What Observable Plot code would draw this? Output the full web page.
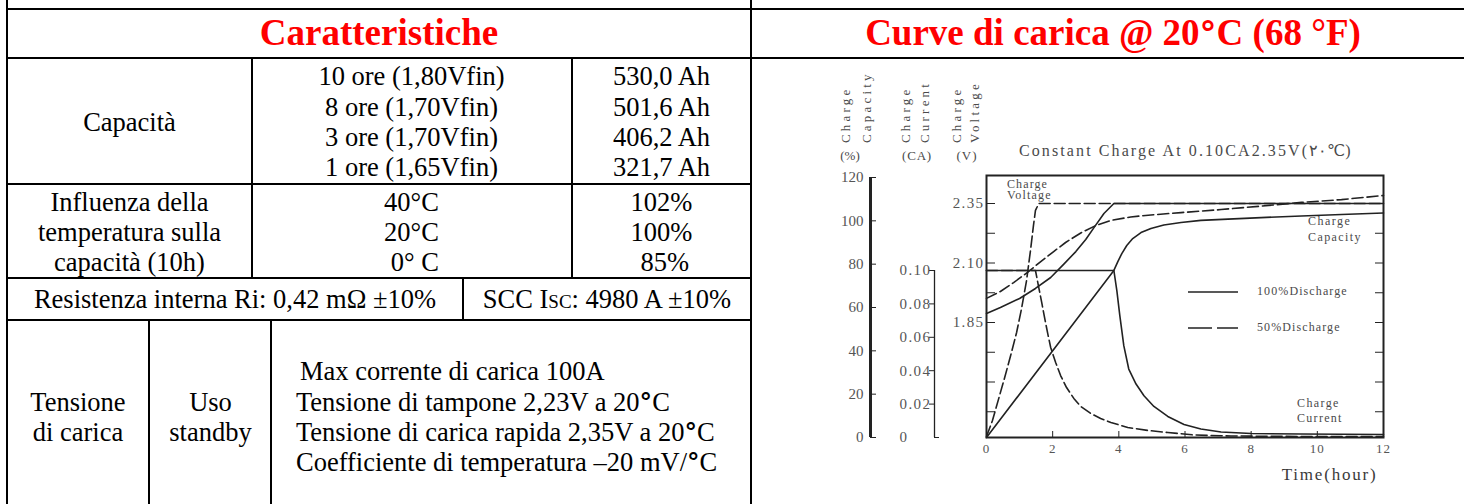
<!DOCTYPE html>
<html><head><meta charset="utf-8">
<script src="https://cdn.jsdelivr.net/npm/d3@7"></script>
<script src="https://cdn.jsdelivr.net/npm/@observablehq/plot@0.6"></script>
<style>
html,body{margin:0;padding:0;background:#fff;}
#page{position:relative;width:1464px;height:504px;overflow:hidden;background:#fff;font-family:"Liberation Serif","Times New Roman",serif;color:#000;}
.ln{position:absolute;background:#000;}
.t{position:absolute;white-space:pre;font-size:26.5px;line-height:32px;}
.ttl{position:absolute;white-space:pre;font-weight:bold;color:#ff0000;font-size:37px;line-height:40px;text-align:center;}
.m{position:absolute;white-space:pre;font-family:"Liberation Serif","Times New Roman",serif;color:#4a4a4a;}
.dg{font-family:"DejaVu Sans",sans-serif;font-weight:bold;font-size:0.95em;}
.bd{font-family:"DejaVu Sans",sans-serif;font-size:0.92em;}
</style></head><body><div id="page"></div>
<script>
// ---------- table content ----------
const capacityRates = ["10 ore (1,80Vfin)", "8 ore (1,70Vfin)", "3 ore (1,70Vfin)", "1 ore (1,65Vfin)"];
const capacityValues = ["530,0 Ah", "501,6 Ah", "406,2 Ah", "321,7 Ah"];
const tempLabelLines = ["Influenza della", "temperatura sulla", "capacità (10h)"];
const temperatures = ["40°C", "20°C", " 0° C"];
const tempFactors = ["102%", "100%", " 85%"];
const chargeLines = ["Max corrente di carica 100A", "Tensione di tampone 2,23V a 20°C", "Tensione di carica rapida 2,35V a 20°C", "Coefficiente di temperatura –20 mV/°C"];

// ---------- chart data ----------
const hourTicks = [0, 2, 4, 6, 8, 10, 12];
const capacityTicks = [0, 20, 40, 60, 80, 100, 120];
const currentTicks = [0, 0.02, 0.04, 0.06, 0.08, 0.10];
const voltageTicks = [1.475, 1.6, 1.725, 1.85, 1.975, 2.1, 2.225, 2.35];
const voltageLabelled = [1.85, 2.1, 2.35];

// Charge voltage (V)
const volt100Hours = [0, 0.42, 1.0, 1.48, 1.94, 2.33, 2.7, 3.0, 3.27, 3.55, 3.85, 12];
const volt100Values = [1.888, 1.913, 1.951, 1.993, 2.039, 2.094, 2.148, 2.199, 2.253, 2.308, 2.35, 2.35];
const volt50Hours = [0, 0.18, 0.36, 0.55, 0.73, 0.91, 1.06, 1.21, 1.33, 1.42, 1.48, 1.58, 12];
const volt50Values = [1.371, 1.438, 1.526, 1.619, 1.711, 1.808, 1.909, 2.026, 2.153, 2.258, 2.321, 2.35, 2.35];

// Charge current (CA)
const curr100Hours = [0, 3.85, 3.94, 4.03, 4.15, 4.3, 4.52, 4.76, 5.06, 5.48, 5.97, 6.48, 7.09, 8, 9.5, 12];
const curr100Values = [0.1, 0.1, 0.088, 0.073, 0.055, 0.041, 0.032, 0.025, 0.0186, 0.0126, 0.0078, 0.0051, 0.0033, 0.0024, 0.0021, 0.0018];
const curr50Hours = [0, 1.48, 1.58, 1.67, 1.76, 1.85, 1.94, 2.09, 2.24, 2.42, 2.64, 2.85, 3.15, 3.45, 3.76, 4.27, 4.88, 5.48, 6.27, 7.39, 9.52, 12];
const curr50Values = [0.1, 0.1, 0.0898, 0.0808, 0.0713, 0.0623, 0.0539, 0.0449, 0.0371, 0.0299, 0.0234, 0.0186, 0.0144, 0.0114, 0.009, 0.006, 0.0042, 0.003, 0.0015, 0.0009, 0.0006, 0.0006];

// Charge capacity (%)
const cap100Hours = [0, 3.85, 3.97, 4.09, 4.24, 4.42, 4.67, 4.97, 5.36, 5.88, 6.48, 7.3, 8.3, 9.52, 10.73, 12];
const cap100Values = [0, 77.1, 81.2, 84.9, 88.6, 91.8, 94.6, 96.5, 98.1, 99.2, 100.2, 100.8, 101.5, 102.2, 102.9, 103.6];
const cap50Hours = [0, 0.42, 0.82, 1.24, 1.64, 2.03, 2.39, 2.85, 3.3, 3.76, 4.36, 4.97, 5.88, 7.09, 8.3, 9.52, 10.73, 12];
const cap50Values = [64.2, 67.4, 71.5, 76.2, 81.2, 85.8, 90.0, 94.4, 97.8, 100.2, 101.8, 102.7, 103.8, 105.2, 106.8, 108.5, 109.8, 111.7];

const rows = (hs, vs) => hs.map((h, i) => ({h, v: vs[i]}));

// ---------- page / table ----------
const page = document.getElementById("page");
function add(cls, css, content, isHtml) {
  const el = document.createElement("div");
  el.className = cls;
  Object.assign(el.style, css);
  if (isHtml) el.innerHTML = content; else el.textContent = content;
  page.appendChild(el);
  return el;
}
const hline = (x1, x2, y) => add("ln", {left: x1 + "px", top: y + "px", width: (x2 - x1) + "px", height: "2px"}, "");
const vline = (x, y1, y2) => add("ln", {left: x + "px", top: y1 + "px", width: "2px", height: (y2 - y1) + "px"}, "");
const ctext = (cx, cy, s, isHtml) => add("t", {left: (cx - 250) + "px", width: "500px", top: (cy - 16) + "px", textAlign: "center"}, s, isHtml);
const ltext = (x, cy, s, isHtml) => add("t", {left: x + "px", top: (cy - 16) + "px"}, s, isHtml);
const deg = s => s.replace(/°/g, "<span class='dg'>°</span>");

hline(6, 1464, 8); hline(6, 1464, 57);
vline(6, 0, 504); vline(750, 0, 504);
hline(6, 752, 183); hline(6, 752, 277); hline(6, 752, 319);
vline(251, 57, 279); vline(571, 57, 279);
vline(462, 277, 321);
vline(148, 319, 504); vline(270, 319, 504);

add("ttl", {left: "79px", width: "600px", top: "13px"}, "Caratteristiche");
add("ttl", {left: "813px", width: "600px", top: "13px"}, "Curve di carica @ 20<span class='bd'>°</span>C (68 °F)", true);

ctext(129.5, 121.7, "Capacità");
[76, 106.5, 136.5, 166.5].forEach((y, i) => { ctext(411.5, y, capacityRates[i]); ctext(661.5, y, capacityValues[i]); });
[201.7, 231.7, 261.7].forEach((y, i) => { ctext(129.5, y, tempLabelLines[i]); ctext(411.5, y, temperatures[i]); ctext(661.5, y, tempFactors[i]); });
ctext(235, 299.3, "Resistenza interna Ri: 0,42 mΩ ±10%");
ctext(607, 299.3, "SCC I<span style='font-variant:small-caps'>sc</span>: 4980 A ±10%", true);
ctext(78, 401.7, "Tensione"); ctext(78, 431.7, "di carica");
ctext(210.5, 401.7, "Uso"); ctext(210.5, 431.7, "standby");
ltext(300, 371, chargeLines[0]);
[401.7, 431.7, 461.7].forEach((y, i) => ltext(296, y, deg(chargeLines[i + 1]), true));

// ---------- chart annotations (HTML text) ----------
function mtext(x, cy, s, fs, ls, anchor) {
  const el = add("m", {left: x + "px", top: (cy - 0.6 * fs) + "px", fontSize: fs + "px", lineHeight: fs + "px", letterSpacing: (ls || 0) + "px"}, s);
  if (anchor === "middle") { el.style.left = (x - 100) + "px"; el.style.width = "200px"; el.style.textAlign = "center"; }
  return el;
}
function rtext(xc, yb, s) {
  const fs = 13;
  add("m", {left: (xc - 0.6 * fs) + "px", top: yb + "px", fontSize: fs + "px", lineHeight: fs + "px", letterSpacing: "3.2px", transformOrigin: "0 0", transform: "rotate(-90deg)"}, s);
}
rtext(847, 143, "Charge"); rtext(868, 143, "Capacity");
rtext(907, 143, "Charge"); rtext(926, 143, "Current");
rtext(958, 143, "Charge"); rtext(976, 143, "Voltage");
mtext(850, 157, "(%)", 13, 0, "middle");
mtext(917, 157, "(CA)", 13, 0.8, "middle");
mtext(967, 157, "(V)", 13, 1.0, "middle");
mtext(1019, 153, "Constant Charge At 0.10CA2.35V(۲۰℃)", 16, 2.1);
mtext(1007, 185, "Charge", 12, 1.1); mtext(1007, 196.5, "Voltage", 12, 1.2);
mtext(1308, 222, "Charge", 12, 1.5); mtext(1308, 238.5, "Capacity", 12, 1.4);
mtext(1297, 404, "Charge", 12, 1.4); mtext(1297, 419.5, "Current", 12, 1.3);
mtext(1257, 292, "100%Discharge", 12, 1.1);
mtext(1257, 328, "50%Discharge", 12, 1.1);

const leg = document.createElementNS("http://www.w3.org/2000/svg", "svg");
leg.setAttribute("width", "60"); leg.setAttribute("height", "60");
leg.style.position = "absolute"; leg.style.left = "1185px"; leg.style.top = "280px";
leg.innerHTML = '<line x1="3" y1="12" x2="53" y2="12" stroke="#222" stroke-width="1.5"/>' +
  '<line x1="3" y1="48" x2="53" y2="48" stroke="#222" stroke-width="1.5" stroke-dasharray="24,5"/>';
page.appendChild(leg);

// ---------- plots (three overlaid layers sharing the x scale) ----------
const ink = "#222", grey = "#555";
const dims = {width: 713, height: 446, marginLeft: 235, marginRight: 81, marginTop: 117, marginBottom: 67};
const plotStyle = (ls) => ({background: "transparent", fontFamily: "'Liberation Serif','Times New Roman',serif", fontSize: "15px", letterSpacing: ls + "px", color: ink, position: "absolute", left: "751px", top: "58px", maxWidth: "none", overflow: "visible"});
const solid = {x: "h", y: "v", stroke: ink, strokeWidth: 1.6};
const dashed = {...solid, strokeDasharray: "11,4"};

const capacityPlot = Plot.plot({
  ...dims,
  x: {domain: [0, 12], axis: null},
  y: {domain: [0, 120], range: [379, 119]},
  style: plotStyle(0),
  marks: [
    Plot.ruleX([0], {y1: 0, y2: 120, dx: -116, stroke: ink, strokeWidth: 3}),
    Plot.axisY(capacityTicks, {anchor: "left", dx: -116, tickSize: -6, tickPadding: 13, fontSize: 15, fill: grey, stroke: ink, label: null}),
    Plot.line(rows(cap100Hours, cap100Values), solid),
    Plot.line(rows(cap50Hours, cap50Values), dashed)
  ]
});

const currentPlot = Plot.plot({
  ...dims,
  x: {domain: [0, 12], axis: null},
  y: {domain: [0, 0.1], range: [379, 212]},
  style: plotStyle(1.4),
  marks: [
    Plot.ruleX([0], {y1: 0, y2: 0.1, dx: -52, stroke: ink, strokeWidth: 1.3}),
    Plot.axisY(currentTicks.filter(d => d > 0), {anchor: "left", dx: -52, tickSize: 5, tickPadding: 30, textAnchor: "start", fontSize: 15, tickFormat: d => d.toFixed(2), fill: grey, stroke: ink, label: null}),
    Plot.axisY(currentTicks.filter(d => d === 0), {anchor: "left", dx: -52, tickSize: -5, tickPadding: 40, textAnchor: "start", fontSize: 15, tickFormat: d => String(d), fill: grey, stroke: ink, label: null}),
    Plot.line(rows(curr100Hours, curr100Values), solid),
    Plot.line(rows(curr50Hours, curr50Values), dashed)
  ]
});

const voltagePlot = Plot.plot({
  ...dims,
  x: {domain: [0, 12]},
  y: {domain: [1.85, 2.35], range: [264, 145]},
  style: plotStyle(1),
  marks: [
    Plot.frame({stroke: ink, strokeWidth: 2}),
    Plot.axisY(voltageTicks, {anchor: "left", tickSize: -9, tickPadding: 11, fontSize: 15, tickFormat: d => voltageLabelled.includes(d) ? d.toFixed(2) : "", fill: grey, stroke: ink, label: null}),
    Plot.axisY(voltageTicks, {anchor: "right", tickSize: -9, tickFormat: () => "", stroke: ink, label: null}),
    Plot.axisX(hourTicks, {anchor: "bottom", tickSize: -6, tickPadding: 12, fontSize: 13, fill: grey, stroke: ink, label: null}),
    Plot.line(rows(volt100Hours, volt100Values), solid),
    Plot.line(rows(volt50Hours, volt50Values), dashed),
    Plot.text(["Time(hour)"], {text: d => d, frameAnchor: "bottom-right", textAnchor: "end", dx: -6, dy: 42, fontSize: 17, fill: "#3a3a3a"})
  ]
});
// SimSun-like wide spacing for the voltage tick labels and the axis title
voltagePlot.querySelectorAll("g[aria-label='y-axis tick label'] text").forEach(t => t.style.letterSpacing = "1.4px");
voltagePlot.querySelectorAll("g[aria-label='text'] text").forEach(t => t.style.letterSpacing = "1.8px");

page.appendChild(capacityPlot);
page.appendChild(currentPlot);
page.appendChild(voltagePlot);
</script></body></html>
